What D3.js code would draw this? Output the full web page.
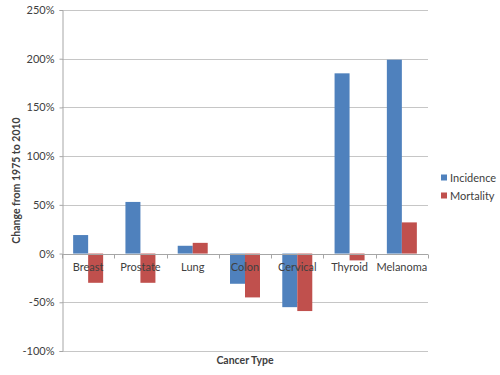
<meta charset="utf-8" />
<script src="https://d3js.org/d3.v7.min.js"></script>
<style>
  body { margin: 0; background: #fff; }
  svg text { font-family: "Lato", "Open Sans", sans-serif; fill: #404040; }
  .grid line { stroke: #c6c6c6; }
  .axis path, .axis line { stroke: #a6a6a6; }
</style>
<svg width="500" height="375"></svg>
<script>
  var categories = ["Breast", "Prostate", "Lung", "Colon", "Cervical", "Thyroid", "Melanoma"];
  var incidence = [19, 53, 8, -31, -55, 185, 199];
  var mortality = [-30, -30, 11, -45, -59, -7, 32];
  var yTicks = [-100, -50, 0, 50, 100, 150, 200, 250];
  var seriesNames = ["Incidence", "Mortality"];
  var colors = ["#4f81bd", "#c0504d"];

  var svg = d3.select("svg"),
    margin = { top: 10, right: 72, bottom: 24, left: 62 },
    width = 428 - margin.left,
    height = 351 - margin.top;

  var x = d3.scaleBand().domain(categories).range([0, width]).paddingInner(0).paddingOuter(0);
  var xs = d3.scaleBand().domain(seriesNames).range([0, 30]);
  var y = d3.scaleLinear().domain([-100, 250]).range([height, 0]);

  var g = svg.append("g").attr("transform", "translate(" + margin.left + "," + margin.top + ")");

  // gridlines
  g.append("g")
    .attr("class", "grid")
    .selectAll("line")
    .data(yTicks)
    .enter()
    .append("line")
    .attr("x1", 0)
    .attr("x2", width)
    .attr("y1", function (d) { return Math.round(y(d)) + 0.5; })
    .attr("y2", function (d) { return Math.round(y(d)) + 0.5; });

  // y axis
  var yAxis = g.append("g")
    .attr("class", "axis")
    .attr("transform", "translate(0.5,0)")
    .call(d3.axisLeft(y).tickValues(yTicks).tickSize(3).tickPadding(5).tickFormat(function (d) { return d + "%"; }));
  yAxis.selectAll("text").style("font-size", "11px");

  // bars
  var data = categories.map(function (c, i) {
    return { cat: c, vals: [incidence[i], mortality[i]] };
  });
  var groups = g.selectAll(".grp")
    .data(data)
    .enter()
    .append("g")
    .attr("transform", function (d) { return "translate(" + (x(d.cat) + (x.bandwidth() - 30) / 2) + ",0)"; });
  groups.selectAll("rect")
    .data(function (d) { return d.vals.map(function (v, j) { return { s: seriesNames[j], v: v, j: j }; }); })
    .enter()
    .append("rect")
    .attr("x", function (d) { return xs(d.s); })
    .attr("width", xs.bandwidth())
    .attr("y", function (d) { return y(Math.max(0, d.v)); })
    .attr("height", function (d) { return Math.abs(y(d.v) - y(0)); })
    .attr("fill", function (d) { return colors[d.j]; });

  // x axis at zero
  var xAxis = g.append("g")
    .attr("class", "axis")
    .attr("transform", "translate(0," + (Math.round(y(0)) + 0.5) + ")")
    .call(d3.axisBottom(x).tickSize(0).tickPadding(9));
  xAxis.select(".domain").remove();
  xAxis.append("line").attr("x1", 0).attr("x2", width).attr("stroke", "#a6a6a6");
  xAxis.selectAll(".cut")
    .data(d3.range(categories.length + 1))
    .enter()
    .append("line")
    .attr("x1", function (i) { return Math.round(i * x.bandwidth()) + 0.5; })
    .attr("x2", function (i) { return Math.round(i * x.bandwidth()) + 0.5; })
    .attr("y1", 0)
    .attr("y2", 4)
    .attr("stroke", "#a6a6a6");
  xAxis.selectAll("text").style("font-size", "11px");

  // titles
  svg.append("text")
    .attr("transform", "translate(16," + (margin.top + y(75)) + ") rotate(-90)")
    .attr("text-anchor", "middle")
    .attr("dy", "0.35em")
    .style("font-size", "10.5px")
    .style("font-weight", "bold")
    .text("Change from 1975 to 2010");
  svg.append("text")
    .attr("x", margin.left + width / 2)
    .attr("y", 364)
    .attr("text-anchor", "middle")
    .style("font-size", "10.5px")
    .style("font-weight", "bold")
    .text("Cancer Type");

  // legend
  var legend = svg.selectAll(".leg")
    .data(seriesNames)
    .enter()
    .append("g")
    .attr("transform", function (d, i) { return "translate(441," + (178 + i * 18) + ")"; });
  legend.append("rect")
    .attr("x", 0).attr("y", -3.5).attr("width", 6).attr("height", 6)
    .attr("fill", function (d, i) { return colors[i]; });
  legend.append("text")
    .attr("x", 9).attr("dy", "0.35em")
    .style("font-size", "11px")
    .text(function (d) { return d; });
</script>
